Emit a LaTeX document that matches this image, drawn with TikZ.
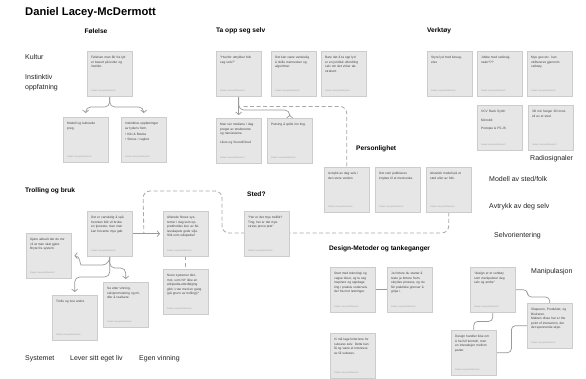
\documentclass[tikz,border=0pt]{standalone}
\usepackage{fontspec}
\setmainfont{Liberation Sans}
\usetikzlibrary{arrows.meta,calc,shadows}
\definecolor{notefill}{HTML}{E6E6E6}
\definecolor{noteline}{HTML}{CCCCCC}
\definecolor{conncol}{HTML}{999999}
\definecolor{txt}{HTML}{222222}
\definecolor{sigcol}{HTML}{A0A0A0}
\pgfdeclarelayer{bg}
\pgfsetlayers{bg,main}
\tikzset{
  note/.style={draw=noteline, fill=notefill, line width=0.4pt, minimum width=45pt, minimum height=45pt, inner sep=0pt, anchor=north west,
    general shadow={fill=black!20, shadow xshift=0.4pt, shadow yshift=-0.9pt}},
  notetext/.style={anchor=north west, inner sep=0pt, text width=35pt, align=left, font=\fontsize{3.2}{4.5}\selectfont, text=txt!85},
  notesig/.style={anchor=south west, inner sep=0pt, font=\fontsize{2.2}{2.5}\selectfont, text=sigcol},
  conn/.style={draw=conncol, line width=0.7pt, rounded corners=5pt},
  arr/.style={-{Straight Barb[length=2.5pt,width=6pt]}},
  dconn/.style={draw=conncol!85, line width=0.8pt, dash pattern=on 4pt off 2.5pt, rounded corners=7pt},
  head/.style={inner sep=0pt, anchor=west, font=\bfseries\fontsize{6.6}{8}\selectfont, text=black},
  side/.style={inner sep=0pt, anchor=west, font=\fontsize{7}{8}\selectfont, text=txt},
}
\newcommand\stickynote[4]{%
  \node[note] (#1) at (#2,#3) {};
  \node[notetext] (#1-t) at ([xshift=4pt,yshift=-5pt]#1.north west) {#4};
  \node[notesig] (#1-s) at ([xshift=4pt,yshift=4pt]#1.south west) {Daniel Lacey-McDermott};
}
\begin{document}
\begin{tikzpicture}[x=1pt,y=-1pt]
\useasboundingbox (0,0) rectangle (586,378);
\begin{pgfonlayer}{bg}
\fill[white] (0,0) rectangle (586,378);
\end{pgfonlayer}

% title
\node[inner sep=0pt, anchor=west, font=\bfseries\fontsize{11.2}{13}\selectfont] (title) at (25,12.5) {Daniel Lacey-McDermott};

% headers
\node[head, anchor=center] (hFol) at (96,31) {Følelse};
\node[head] (hTa) at (216,31) {Ta opp seg selv};
\node[head] (hVerk) at (427,31) {Verktøy};
\node[head] (hPers) at (356,149) {Personlighet};
\node[head] (hTroll) at (25,191) {Trolling og bruk};
\node[head] (hSted) at (247,194) {Sted?};
\node[head] (hDes) at (329,249) {Design-Metoder og tankeganger};

% side labels
\node[side] (lKult) at (25,57) {Kultur};
\node[side] (lInst) at (25,77) {Instinktiv};
\node[side] (lOpp) at (25,87.5) {oppfatning};
\node[side] (lRad) at (530,159) {Radiosignaler};
\node[side] (lMod) at (489,179) {Modell av sted/folk};
\node[side] (lAvt) at (489,207) {Avtrykk av deg selv};
\node[side] (lSelv) at (494,236) {Selvorientering};
\node[side] (lMan) at (531,272) {Manipulasjon};
\node[side] (lSys) at (25,359) {Systemet};
\node[side] (lLev) at (70,359) {Lever sitt eget liv};
\node[side] (lEgen) at (139,359) {Egen vinning};

% Følelse
\stickynote{N1}{87}{51}{Følelsen man får fra lyd er basert på kultur og instinkt.}
\stickynote{N2}{63}{117}{Modell og kulturelle preg.}
\stickynote{N3}{121}{117}{Instinktive oppfatninger av lydens form.\\[2pt] • Kiki \& Bouba\\ • Stress / vaghet}

% Ta opp seg selv
\stickynote{T1}{216}{51}{"Hvorfor uttrykker folk seg selv?"}
\stickynote{T2}{271}{51}{Det kan være vanskelig å skille mennesker og algoritmer.}
\stickynote{T3}{321}{51}{Bare det å ta opp lyd er en juridisk utfordring selv om det virker abstrahert.}
\stickynote{T4}{216}{118}{Man ser mediene i dag preget av strukturerte og narsissisme.\\[4pt] Likes og SoundCloud}
\stickynote{T5}{267}{118}{Prøving å spille inn ting.}

% Verktøy
\stickynote{V1}{427}{51}{Styre lyd med bevegelse}
\stickynote{V2}{477}{51}{Jobbe med radiosignaler???}
\stickynote{V3}{527}{51}{Mye geo etc. kan oblitereres gjennom verktøy.}
\stickynote{V4}{477}{105}{VCV Rack Synth\\[4pt] Microbit\\[4pt] Protopie \& P5.JS}
\stickynote{V5}{528}{105}{3D mic fanger 3D modell av et sted.}

% Personlighet
\stickynote{P1}{324}{167}{Avtrykk av deg selv i den store verden}
\stickynote{P2}{375}{167}{Det som publiseres knyttes til et menneske.}
\stickynote{P3}{426}{167}{Akustisk modell på et sted eller av folk.}

% Trolling og bruk
\stickynote{B1}{87}{211}{Det er vanskelig å spå hvordan folk vil bruke en tjeneste, men man kan forvente mye galt.}
\stickynote{B2}{163}{211}{Allerede finnes systemer i dag som opprettholdes kun av fellesskapets gode vilje. Slik som wikipedia?}
\stickynote{B3}{163}{269}{Noen systemer derimot, som NY ikke en wikipedia-etterfølging gikk i rute med en gang (på grunn av trolling)?}
\stickynote{B4}{26}{233}{Gjøre aktuelt det du tror vil at man skal gjøre. Bryte fra system.}
\stickynote{B5}{103}{282}{Se etter vinning, selvpromotering og midler å realisere.}
\stickynote{B6}{52}{295}{Trolle og lure andre}

% Sted?
\stickynote{S1}{244}{211}{"Her er det mye trafikk? Ting, her er det mye stress prove prat"}

% Design-Metoder
\stickynote{D1}{330}{267}{Start med teknologi og vague ideer, og la seg inspirere og oppdage ting i praksis underveis der fra mot løsninger.}
\stickynote{D2}{387}{267}{Ja fortere du starter å teste ja fortere fremskrydes prosess, og du får praktiske grenser å gripe i.}
\stickynote{D3}{330}{333}{Vi må lage kriteriene for suksess selv. Dette kan få og være et interesse av få suksess.}

% Manipulasjon
\stickynote{M1}{470}{267}{"design er et verktøy som manipulerer deg selv og andre"}
\stickynote{M2}{527}{303}{Skaperen, Produktet, og Brukeren.\\ Makten disse har er the point of interaction, der det spennende skjer.}
\stickynote{M3}{451}{330}{Design handler ikke om å ha full kontroll, men en interaksjon mellom parter.}

\coordinate (dA) at (222,233);
\coordinate (dB) at (143,191);
\coordinate (jn) at ($(B1.east)!0.375!(B2.west)$);

\begin{pgfonlayer}{bg}
% Følelse
\draw[conn,arr] (N1.south) |- ([yshift=10pt]N2.north) -- ([yshift=4pt]N2.north);
\draw[conn,arr] (N1.south) |- ([yshift=10pt]N3.north) -- ([yshift=4pt]N3.north);
% Ta opp seg selv
\draw[conn,arr] (T1.south) -- ([yshift=3pt]T4.north);
\draw[conn,arr] (T1.south) |- ([yshift=8pt]T5.north) -- ([yshift=3pt]T5.north);
\draw[dconn] ([xshift=5pt,yshift=-10pt]T1.south) -| (P1.north);
% long dashed route
\draw[dconn] (P3.south) |- (dA) |- (dB) -- (jn);
% Trolling
\draw[conn,arr] (B1.east) -- ([xshift=-3pt]B2.west);
\draw[dconn] (B2.south) -- (B3.north);
\draw[conn,arr] (B1.south) .. controls +(0,9) and +(6,0) .. (96,265) -- (86,265) .. controls +(-6,0) and +(6,0) .. ([xshift=3pt]B4.east);
\draw[conn,arr] (B1.south) |- ([yshift=18pt]B6.north) -- ([yshift=3pt]B6.north);
\draw[conn,arr] (B1.south) |- ([yshift=14pt]B5.north) -- ([yshift=3pt]B5.north);
% Design
\draw[conn] (D1.east) -- (D2.west);
\draw[conn, rounded corners=4pt] (M1.east) -- ++(12,0) |- ([yshift=6pt]M2.north) -- (M2.north);
\draw[conn, rounded corners=4pt] (M1.south) -- ++(0,9) -| (M3.north);
\draw[conn, rounded corners=4pt] (M3.east) -- ++(15,0) |- (M2.west);
\end{pgfonlayer}
\end{tikzpicture}
\end{document}
